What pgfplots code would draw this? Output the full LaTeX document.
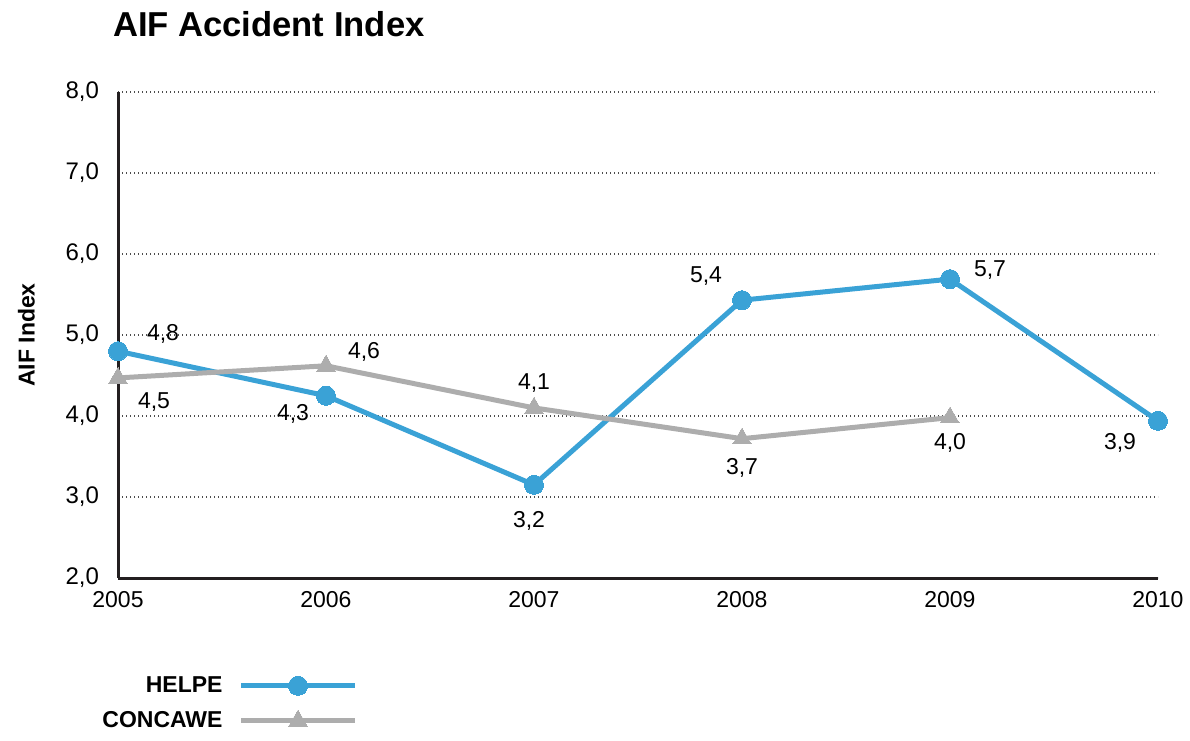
\documentclass[border=0pt]{standalone}
\usepackage{fontspec}
\setmainfont{Liberation Sans}
\usepackage{pgfplots}
\pgfplotsset{compat=1.18}
\usepackage{pgfplotstable}

\definecolor{helpe}{HTML}{3AA2D6}
\definecolor{concawe}{HTML}{ADADAD}
\definecolor{axisblk}{HTML}{231F20}

% year, value, label text, label offsets (pt)
\pgfplotstableread{
year val  lab dx    dy
2005 4.80 4,8 22.5  8.5
2006 4.25 4,3 -16.5 -9
2007 3.15 3,2 -2.5  -18
2008 5.43 5,4 -18   12
2009 5.69 5,7 20    4.5
2010 3.94 3,9 -19   -11
}\helpe

\pgfplotstableread{
year val  lab dx  dy
2005 4.47 4,5 18  -12
2006 4.62 4,6 19  7
2007 4.10 4,1 0   12.5
2008 3.72 3,7 0   -14.5
2009 3.98 4,0 0   -12.5
}\concawe

\pgfplotsset{
  valuelabels/.style={
    draw=none, mark=none, forget plot,
    nodes near coords,
    point meta=explicit symbolic,
    visualization depends on={\thisrow{dx} \as \dx},
    visualization depends on={\thisrow{dy} \as \dy},
    nodes near coords style={anchor=center, xshift=\dx pt, yshift=\dy pt, color=black,
      font=\fontsize{11.5}{13}\selectfont},
  },
}

\begin{document}
\begin{tikzpicture}
\useasboundingbox (0,0) rectangle (595pt,370pt);
\begin{axis}[
  at={(59pt,81pt)}, anchor=south west,
  scale only axis,
  width=520pt, height=243pt,
  xmin=2005, xmax=2010,
  ymin=2, ymax=8,
  xtick={2005,...,2010},
  ytick={2,3,...,8},
  axis lines*=left,
  axis line style={line width=1.5pt, color=axisblk, -},
  major tick length=0pt,
  ymajorgrids=true,
  grid style={color=black!70, line width=0.6pt, dash pattern=on 0.6pt off 1.4pt},
  clip=false,
  font=\fontsize{11.5}{13}\selectfont,
  /pgf/number format/assume math mode=true,
  x tick label style={/pgf/number format/1000 sep={}, yshift=-3pt},
  y tick label style={/pgf/number format/.cd, fixed, fixed zerofill, precision=1, use comma, /tikz/.cd,
    xshift=-6pt, font=\fontsize{12}{13}\selectfont},
  title={AIF Accident Index},
  title style={at={(axis description cs:0,1)}, anchor=base west, xshift=-6pt, yshift=22pt,
    font=\fontsize{17.3}{20}\selectfont\bfseries},
  ylabel={AIF Index},
  ylabel style={at={(axis description cs:-0.088,0.5)}, anchor=center,
    font=\fontsize{11.5}{13}\selectfont\bfseries},
  legend style={at={(axis description cs:0,0)}, anchor=north west, xshift=-13pt, yshift=-45pt,
    draw=none, fill=none, font=\fontsize{11.5}{13}\selectfont\bfseries,
    row sep=4pt, legend cell align=right},
  legend plot pos=right,
  legend image code/.code={
    \path (0pt,0pt);
    \draw[mark repeat=2, mark phase=2, #1] plot coordinates {(6pt,0pt) (34.5pt,0pt) (63pt,0pt)};
  },
]
\addplot[color=helpe, line width=2.5pt, mark=*, mark size=4.75pt,
  mark options={solid, line width=0pt}]
  table[x=year, y=val] {\helpe};
\addplot[color=concawe, line width=2.5pt, mark=triangle*, mark size=5.3pt,
  mark options={solid, line width=0pt}]
  table[x=year, y=val] {\concawe};
\legend{HELPE, CONCAWE}
\addplot[valuelabels] table[x=year, y=val, meta=lab] {\helpe};
\addplot[valuelabels] table[x=year, y=val, meta=lab] {\concawe};
\end{axis}
\end{tikzpicture}
\end{document}
